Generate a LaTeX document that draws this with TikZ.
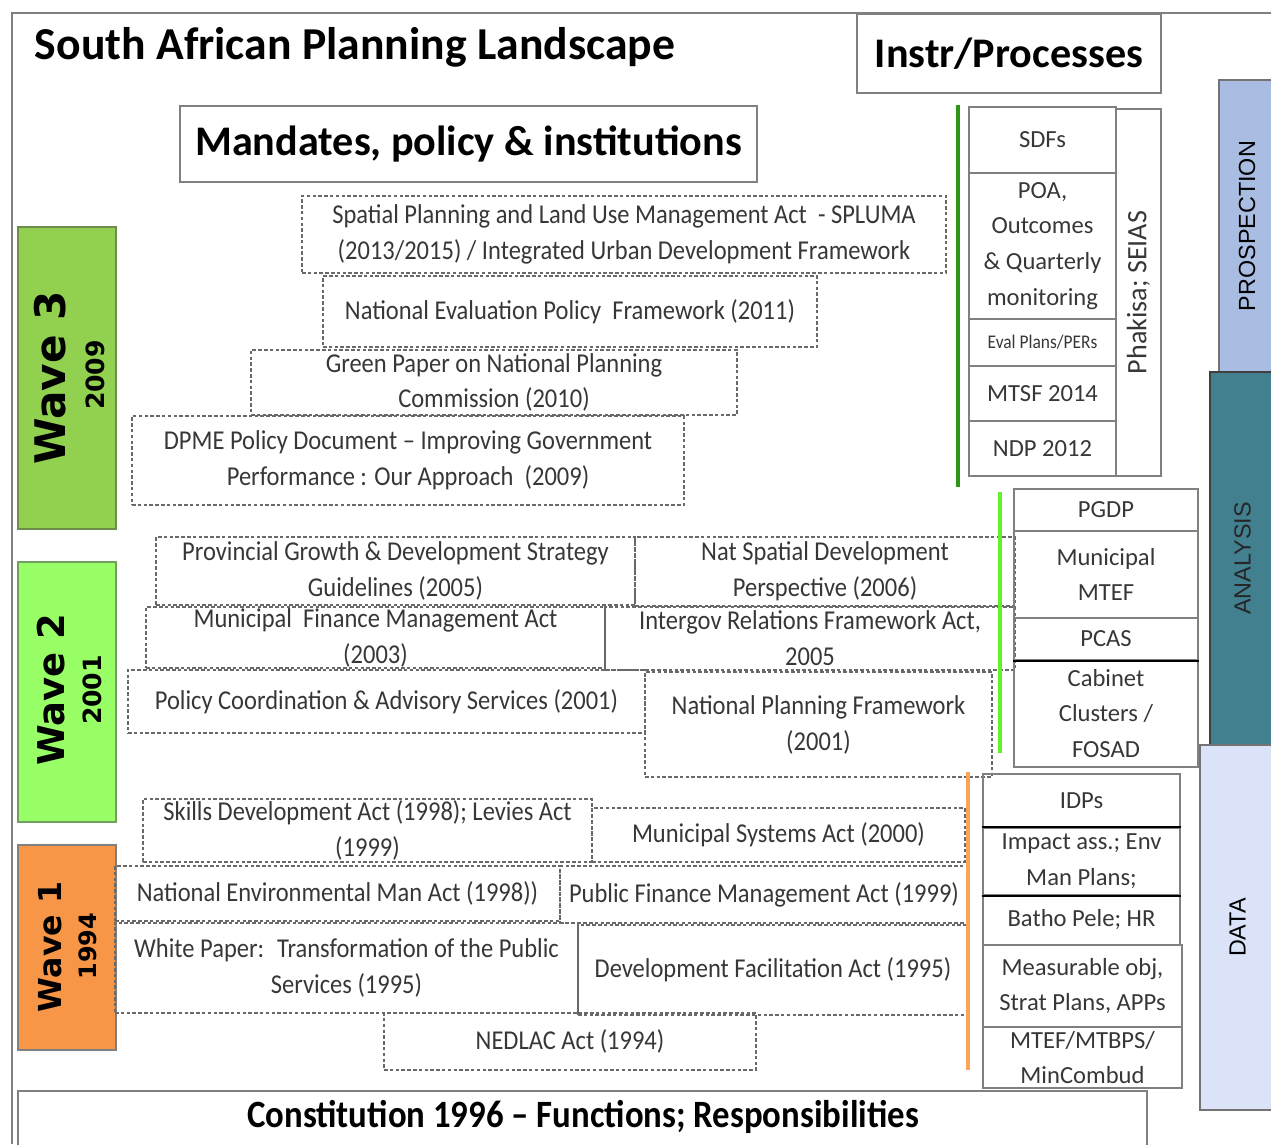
\documentclass[tikz,border=0pt]{standalone}
\usepackage{fontspec}
\setmainfont{Carlito}
\newfontfamily\actfont[FakeStretch=0.9,Ligatures=TeX]{Carlito}
\newfontfamily\wavefont{DejaVu Sans}
\newfontfamily\barfont{Liberation Sans}
\definecolor{wavethree}{RGB}{146,208,80}
\definecolor{wavetwo}{RGB}{153,255,102}
\definecolor{waveone}{RGB}{247,150,70}
\definecolor{prosblue}{RGB}{169,189,227}
\definecolor{analteal}{RGB}{66,128,143}
\definecolor{datalav}{RGB}{219,227,248}
\definecolor{linegreen}{RGB}{46,150,20}
\definecolor{linelime}{RGB}{102,240,40}
\definecolor{lineorange}{RGB}{250,165,90}
\definecolor{boxgray}{RGB}{128,128,128}
\definecolor{dashgray}{RGB}{105,105,105}
\definecolor{txtdark}{RGB}{55,55,55}
\begin{document}
\begin{tikzpicture}[x=0.02cm,y=-0.02cm,
  sz/.style 2 args={minimum width=#1*0.02cm, minimum height=#2*0.02cm},
  dbox/.style={draw=dashgray, dash pattern=on 2pt off 1.3pt, line width=0.6pt,
    inner sep=0pt, align=center, text=txtdark,
    font=\actfont\fontsize{15.5}{20.4}\selectfont},
  ibox/.style={draw=boxgray, line width=1.2pt, inner sep=0pt, align=center,
    text=txtdark, font=\fontsize{14}{20.4}\selectfont},
  hbox/.style={draw=boxgray, line width=1.2pt, inner sep=0pt, align=center},
  wbox/.style={line width=1.5pt, inner sep=0pt},
  wtxt/.style={rotate=90, inner sep=0pt, font=\wavefont\bfseries\fontsize{#1}{#1}\selectfont},
  ytxt/.style={rotate=90, inner sep=0pt, font=\wavefont\bfseries\fontsize{14.3}{15}\selectfont},
  bar/.style={rotate=90, inner sep=0pt, line width=1.2pt,
    font=\barfont\fontsize{13.3}{15}\selectfont}]
  \useasboundingbox (0,0) rectangle (1271,1144);
  %%% frame
  \path (12,1144) coordinate (fr1);
  \path (12,13) coordinate (fr2);
  \path (1271,13) coordinate (fr3);
  \draw[boxgray, line width=0.9pt] (fr1) -- (fr2) -- (fr3);
  %%% headings
  \node[inner sep=0pt, font=\bfseries\fontsize{26}{30}\selectfont] (ttl) at (355,47)
    {South African Planning Landscape};
  \node[hbox, sz={304}{79}, font=\bfseries\fontsize{24}{28}\selectfont] (inst) at (1009,53.5)
    {Instr/Processes};
  \node[hbox, sz={577}{76}, font=\bfseries\fontsize{24}{28}\selectfont] (mand) at (468.5,144)
    {Mandates, policy \& institutions};
  %%% side bars
  \node[bar, draw=black!55, fill=prosblue, sz={292}{56}] (pros) at (1247,226) {PROSPECTION};
  \node[bar, draw=black!75, fill=analteal, text=black!85, sz={373}{65}] (anal) at (1242.5,558.5) {ANALYSIS};
  \node[bar, draw=black!55, fill=datalav, sz={365}{75}] (data) at (1237.5,927.5) {DATA};
  %%% waves
  \node[wbox, draw=black!30!wavethree!70!gray, fill=wavethree, sz={98}{302}] (wv3) at (67,378) {};
  \node[wbox, draw=black!30!wavetwo!60!gray, fill=wavetwo, sz={98}{260}] (wv2) at (67,692) {};
  \node[wbox, draw=boxgray, fill=waveone, sz={98}{205}] (wv1) at (67,947.5) {};
  \node[wtxt=24] (wv3t) at (50,378) {Wave 3};
  \node[ytxt] (wv3y) at (95,375) {2009};
  \node[wtxt=21] (wv2t) at (51,690) {Wave 2};
  \node[ytxt] (wv2y) at (92,690) {2001};
  \node[wtxt=18] (wv1t) at (50,947) {Wave 1};
  \node[ytxt, font=\wavefont\bfseries\fontsize{13.6}{15}\selectfont] (wv1y) at (88,946) {1994};
  %%% wave 3 mandates
  \node[dbox, sz={644}{77}] (splu) at (624,234.5)
    {Spatial Planning and Land Use Management Act \ - SPLUMA\\(2013/2015) / Integrated Urban Development Framework};
  \node[dbox, sz={494}{71}] (nepf) at (570,311.5) {National Evaluation Policy \ Framework (2011)};
  \node[dbox, sz={486}{65}] (gpnp) at (494,382.5) {Green Paper on National Planning\\Commission (2010)};
  \node[dbox, sz={552}{89}] (dpme) at (408,460.5)
    {DPME Policy Document – Improving Government\\Performance : Our Approach \ (2009)};
  %%% wave 2 mandates
  \node[dbox, sz={479}{68}] (pgds) at (395.5,571) {Provincial Growth \& Development Strategy\\Guidelines (2005)};
  \node[dbox, sz={380}{69}] (nsdp) at (825,571.5) {Nat Spatial Development\\Perspective (2006)};
  \node[dbox, sz={459}{61}] (mfma) at (375.5,637.5) {Municipal \ Finance Management Act\\(2003)};
  \node[dbox, sz={410}{63}] (igrf) at (810,638.5) {Intergov Relations Framework Act,\\2005};
  \node[dbox, sz={517}{63}] (pcas) at (386.5,701.5) {Policy Coordination \& Advisory Services (2001)};
  \node[dbox, sz={347}{105}] (npfw) at (818.5,724.5) {National Planning Framework\\(2001)};
  %%% wave 1 mandates
  \node[dbox, sz={449}{63}] (sdla) at (367.5,830.5) {Skills Development Act (1998); Levies Act\\(1999)};
  \node[dbox, sz={373}{54}] (msya) at (778.5,835) {Municipal Systems Act (2000)};
  \node[dbox, sz={445}{55}] (nema) at (337.5,893.5) {National Environmental Man Act (1998))};
  \node[dbox, sz={408}{57}] (pfma) at (764,894.5) {Public Finance Management Act (1999)};
  \node[dbox, sz={463}{90}] (wpts) at (346.5,968) {White Paper: \ Transformation of the Public\\Services (1995)};
  \node[dbox, sz={390}{90}] (dfac) at (773,970) {Development Facilitation Act (1995)};
  \node[dbox, sz={372}{57}] (nedl) at (570,1041.5) {NEDLAC Act (1994)};
  %%% constitution
  \node[hbox, sz={1129}{61}] (cons) at (582.5,1121.5) {};
  \node[inner sep=0pt, font=\actfont\bfseries\fontsize{22}{26}\selectfont] (const) at (583,1117)
    {Constitution 1996 – Functions; Responsibilities};
  %%% coloured rules
  \path (958,105) coordinate (g3a);
  \path (958,487) coordinate (g3b);
  \path (1000,492) coordinate (g2a);
  \path (1000,753) coordinate (g2b);
  \path (968,772) coordinate (g1a);
  \path (968,1070) coordinate (g1b);
  \draw[linegreen, line width=2.4pt] (g3a) -- (g3b);
  \draw[linelime, line width=2.4pt] (g2a) -- (g2b);
  \draw[lineorange, line width=2pt] (g1a) -- (g1b);
  %%% wave 3 instruments
  \node[ibox, sz={147}{66}] (sdfs) at (1042.5,140) {SDFs};
  \node[ibox, sz={147}{146}] (poao) at (1042.5,246) {POA,\\Outcomes\\\& Quarterly\\monitoring};
  \node[ibox, sz={147}{47}, font=\actfont\fontsize{11}{13}\selectfont] (evpl) at (1042.5,342.5) {Eval Plans/PERs};
  \node[ibox, sz={147}{55}] (mtsf) at (1042.5,393.5) {MTSF 2014};
  \node[ibox, sz={147}{55}] (ndp) at (1042.5,448.5) {NDP 2012};
  \node[ibox, rotate=90, sz={367}{45}, font=\fontsize{16}{18}\selectfont] (phak) at (1138.5,292.5) {Phakisa; SEIAS};
  %%% wave 2 instruments
  \node[ibox, sz={184}{42}] (pgdp) at (1106,510) {PGDP};
  \node[ibox, sz={184}{87}] (mmtf) at (1106,574.5) {Municipal\\MTEF};
  \node[ibox, sz={184}{42}] (pcs) at (1106,639) {PCAS};
  \node[ibox, sz={184}{107}] (cabc) at (1106,713.5) {Cabinet\\Clusters /\\FOSAD};
  \draw[black, line width=1.2pt] (pcs.south west) -- (pcs.south east);
  %%% wave 1 instruments
  \node[ibox, sz={197}{54}] (idps) at (1081.5,801) {IDPs};
  \node[ibox, sz={197}{67}] (impa) at (1081.5,861.5) {Impact ass.; Env\\Man Plans;};
  \node[ibox, sz={197}{50}] (bath) at (1081.5,920) {Batho Pele; HR};
  \node[ibox, sz={199}{82}] (meas) at (1082.5,986) {Measurable obj,\\Strat Plans, APPs};
  \node[ibox, sz={199}{61}] (mtef) at (1082.5,1057.5) {MTEF/MTBPS/\\MinCombud};
  \draw[black, line width=1.2pt] (impa.north west) -- (impa.north east);
  \draw[black, line width=1.2pt] (impa.south west) -- (impa.south east);
\end{tikzpicture}
\end{document}
